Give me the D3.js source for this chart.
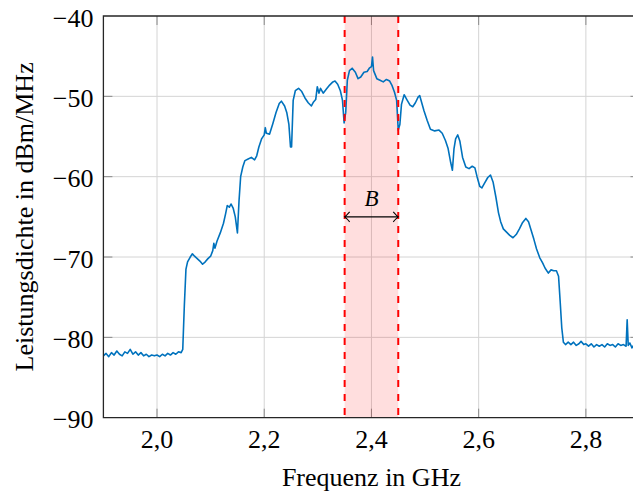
<!DOCTYPE html>
<html><head><meta charset="utf-8">
<script src="https://cdn.jsdelivr.net/npm/d3@7"></script>
<style>
html,body{margin:0;padding:0;background:#fff;}
svg{display:block;}
text{font-family:"Liberation Serif","Times New Roman",serif;fill:#000;}
</style></head>
<body>
<svg id="chart" width="633" height="491"></svg>
<script>
// Frequency in GHz
const freq = [
1.900,1.905,1.910,1.915,1.920,1.925,1.930,1.935,1.940,1.945,1.950,1.955,1.960,1.965,1.970,1.975,1.980,1.985,1.990,1.995,
2.000,2.005,2.010,2.015,2.020,2.025,2.030,2.035,2.040,2.045,2.048,
2.051,2.054,2.057,2.062,2.066,2.070,2.075,2.080,2.085,2.090,2.095,2.100,2.104,2.106,2.108,2.112,2.118,2.124,2.128,2.131,
2.135,2.138,2.142,2.146,2.150,2.153,2.156,2.160,2.164,2.170,2.176,2.182,2.186,2.190,2.195,2.200,2.202,2.204,2.210,2.216,
2.222,2.228,2.232,2.238,2.242,2.246,2.249,2.251,2.254,2.258,2.264,2.270,2.276,2.282,2.288,2.292,2.296,2.299,2.302,2.305,
2.310,2.316,2.322,2.328,2.332,2.337,2.342,2.346,2.349,2.352,2.355,2.359,2.364,2.370,2.375,2.380,2.386,2.392,2.396,2.400,
2.402,2.404,2.410,2.416,2.422,2.428,2.434,2.438,2.443,2.447,2.450,2.453,2.456,2.461,2.466,2.472,2.477,2.482,2.487,2.490,
2.493,2.498,2.504,2.510,2.518,2.526,2.532,2.538,2.543,2.548,2.551,2.554,2.557,2.561,2.565,2.570,2.576,2.582,2.588,2.593,
2.597,2.602,2.606,2.611,2.617,2.622,2.627,2.632,2.637,2.641,2.646,2.652,2.658,2.664,2.670,2.676,2.682,2.688,2.693,2.698,
2.703,2.708,2.714,2.719,2.724,2.730,2.735,2.740,2.745,2.749,2.752,2.755,2.758,2.762,2.767,2.772,2.777,2.782,2.787,2.791,
2.796,2.800,2.805,2.810,2.815,2.820,2.825,2.830,2.835,2.840,2.845,2.850,2.855,2.860,2.865,2.870,2.875,2.877,2.879,2.882,
2.886,2.890,2.895,2.900
];
// Power density in dBm/MHz
const power = [
-82.3,-82.0,-82.4,-81.9,-82.2,-81.7,-82.1,-82.3,-81.8,-82.0,-81.5,-82.1,-81.8,-82.2,-81.9,-82.3,-82.1,-82.4,-82.2,-82.3,
-82.2,-82.4,-82.1,-82.3,-82.0,-82.2,-81.9,-82.1,-81.8,-81.9,-81.5,
-76.0,-71.5,-70.6,-70.0,-69.6,-69.9,-70.2,-70.5,-70.9,-70.6,-70.2,-69.9,-69.2,-68.3,-68.9,-68.0,-67.0,-65.8,-64.6,-63.6,
-63.8,-63.4,-63.9,-65.0,-67.0,-63.0,-60.0,-58.8,-58.0,-57.8,-57.6,-57.9,-57.4,-56.3,-55.3,-54.8,-53.9,-54.6,-54.7,-53.4,
-52.0,-50.9,-50.6,-51.2,-52.0,-53.5,-56.3,-56.3,-50.5,-49.3,-49.0,-49.4,-50.2,-50.8,-51.2,-50.7,-50.4,-48.8,-49.6,-49.0,
-49.6,-49.1,-48.6,-48.2,-48.1,-48.5,-49.3,-50.5,-53.3,-52.0,-48.0,-46.8,-46.5,-47.0,-47.8,-47.6,-47.0,-46.9,-46.5,-46.3,
-45.1,-46.8,-47.8,-48.0,-48.2,-47.9,-48.1,-48.6,-49.5,-50.5,-54.2,-53.5,-51.0,-49.8,-50.4,-51.1,-51.3,-50.8,-50.1,-49.9,
-50.6,-51.8,-53.0,-54.1,-54.3,-54.2,-54.6,-55.5,-56.5,-58.3,-59.2,-56.5,-55.3,-54.8,-55.6,-57.6,-58.8,-59.0,-58.7,-58.9,
-60.0,-61.2,-61.4,-60.8,-60.1,-59.8,-60.7,-62.5,-64.5,-65.6,-66.5,-66.9,-67.3,-67.6,-67.2,-66.5,-65.7,-65.2,-65.6,-66.7,
-67.8,-69.0,-70.1,-70.7,-71.4,-72.0,-71.6,-71.7,-71.7,-72.4,-75.5,-78.8,-80.6,-80.9,-80.6,-80.9,-80.6,-81.0,-80.8,-80.5,
-80.9,-80.8,-81.1,-80.8,-81.2,-80.9,-81.1,-80.9,-81.2,-80.8,-81.0,-80.9,-81.2,-80.8,-81.0,-80.9,-81.1,-77.8,-81.0,-80.7,
-81.3,-80.9,-81.1,-80.9
];
const xTicks = [2.0, 2.2, 2.4, 2.6, 2.8];
const yTicks = [-90, -80, -70, -60, -50, -40];
const band = [2.35, 2.45];
const arrowLevel = -65;
const bandLabel = "B";
const xTitle = "Frequenz in GHz";
const yTitle = "Leistungsdichte in dBm/MHz";

const svg = d3.select("#chart");
const L = 103.4, R = 639.5, T = 16, B = 417.7;
const x = d3.scaleLinear().domain([1.9, 2.9]).range([L, R]);
const y = d3.scaleLinear().domain([-90, -40]).range([B, T]);
const fmt = v => String(v.toFixed(1)).replace(".", ",");
const fmtY = v => (v < 0 ? "\u2212" : "") + Math.abs(v);

svg.append("defs").append("clipPath").attr("id","clip")
  .append("rect").attr("x",L).attr("y",T).attr("width",R-L).attr("height",B-T);

// grid
const grid = svg.append("g");
grid.selectAll(".gx").data(xTicks).join("line")
  .attr("x1",d=>x(d)).attr("x2",d=>x(d)).attr("y1",T).attr("y2",B)
  .attr("stroke","#d4d4d4").attr("stroke-width",1);
grid.selectAll(".gy").data(yTicks.filter(d=>d>-90&&d<-40)).join("line")
  .attr("x1",L).attr("x2",R).attr("y1",d=>y(d)).attr("y2",d=>y(d))
  .attr("stroke","#d4d4d4").attr("stroke-width",1);

// inner ticks on all sides
const tk = 9;
const ticks = svg.append("g").attr("stroke","#8a8a8a").attr("stroke-width",1);
xTicks.forEach(d=>{
  ticks.append("line").attr("x1",x(d)).attr("x2",x(d)).attr("y1",B).attr("y2",B-tk);
  ticks.append("line").attr("x1",x(d)).attr("x2",x(d)).attr("y1",T).attr("y2",T+tk);
});
yTicks.filter(d=>d>-90&&d<-40).forEach(d=>{
  ticks.append("line").attr("x1",L).attr("x2",L+tk).attr("y1",y(d)).attr("y2",y(d));
  ticks.append("line").attr("x1",R).attr("x2",R-tk).attr("y1",y(d)).attr("y2",y(d));
});

// band
svg.append("rect").attr("x",x(band[0])).attr("y",T)
  .attr("width",x(band[1])-x(band[0])).attr("height",B-T)
  .attr("fill","#ff0000").attr("fill-opacity",0.13);

// spectrum line
const data = freq.map((f,i)=>[f,power[i]]);
svg.append("path").datum(data).attr("clip-path","url(#clip)")
  .attr("fill","none").attr("stroke","#0072bd").attr("stroke-width",1.6)
  .attr("stroke-linejoin","round")
  .attr("d", d3.line().x(d=>x(d[0])).y(d=>y(d[1])));

// dashed band edges
svg.selectAll(".bd").data(band).join("line")
  .attr("x1",d=>x(d)).attr("x2",d=>x(d)).attr("y1",T).attr("y2",B)
  .attr("stroke","#ff0000").attr("stroke-width",2).attr("stroke-dasharray","7,7");

// arrow
const ay = y(arrowLevel), ax1 = x(band[0]), ax2 = x(band[1]);
const ar = svg.append("g").attr("stroke","#000").attr("stroke-width",1.1).attr("fill","none");
ar.append("line").attr("x1",ax1).attr("x2",ax2).attr("y1",ay).attr("y2",ay);
ar.append("path").attr("d",`M${ax1+5},${ay-5} Q${ax1+1.5},${ay-1} ${ax1},${ay} Q${ax1+1.5},${ay+1} ${ax1+5},${ay+5}`);
ar.append("path").attr("d",`M${ax2-5},${ay-5} Q${ax2-1.5},${ay-1} ${ax2},${ay} Q${ax2-1.5},${ay+1} ${ax2-5},${ay+5}`);
svg.append("text").attr("x",(ax1+ax2)/2).attr("y",ay-10.5)
  .attr("text-anchor","middle").attr("font-style","italic").attr("font-size",23)
  .text(bandLabel);

// axes frame (left, bottom, top)
const frame = svg.append("g").attr("stroke","#262626").attr("stroke-width",1.3).attr("fill","none");
frame.append("path").attr("d",`M${R},${T} H${L} V${B} H${R}`);

// tick labels
svg.selectAll(".xl").data(xTicks).join("text")
  .attr("x",d=>x(d)).attr("y",447.6).attr("text-anchor","middle").attr("font-size",26)
  .text(fmt);
svg.selectAll(".yl").data(yTicks).join("text")
  .attr("x",93.5).attr("y",d=>y(d)).attr("dy","0.41em").attr("text-anchor","end").attr("font-size",26)
  .text(fmtY);

// titles
svg.append("text").attr("x",(L+R)/2).attr("y",486).attr("text-anchor","middle")
  .attr("font-size",26).attr("fill","#222").text(xTitle);
svg.append("text").attr("transform",`translate(33,${(T+B)/2}) rotate(-90)`)
  .attr("text-anchor","middle").attr("font-size",26).attr("fill","#222").text(yTitle);
</script>
</body></html>
